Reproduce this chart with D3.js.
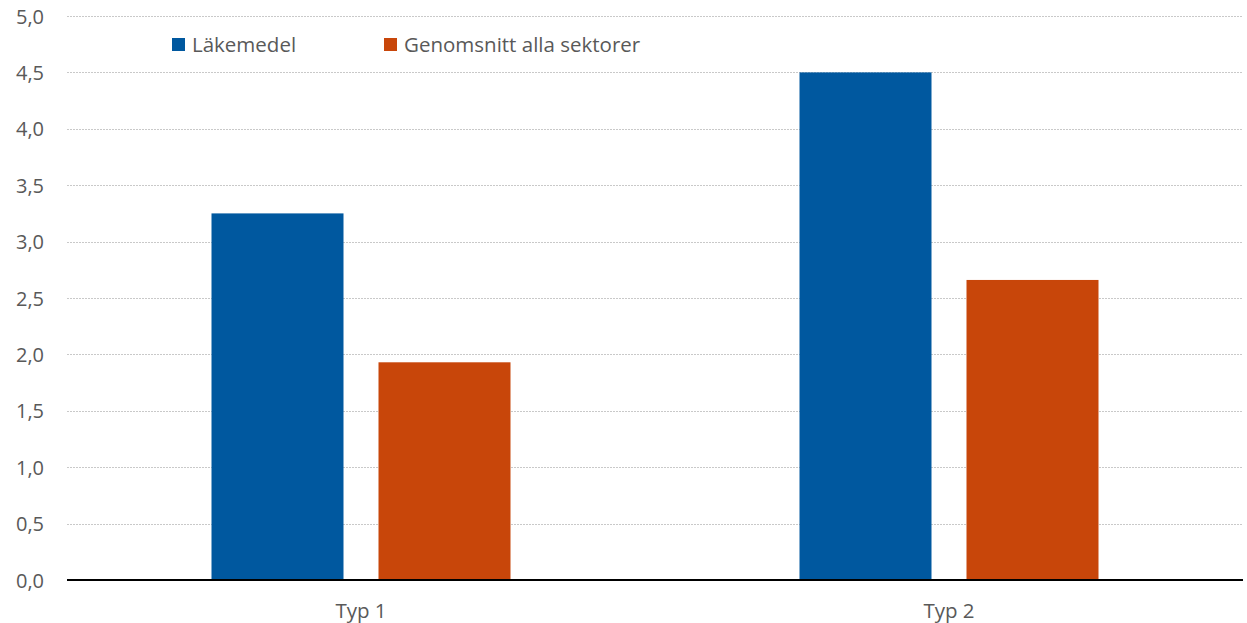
<!DOCTYPE html>
<html>
<head>
<meta charset="utf-8">
<script src="https://cdn.jsdelivr.net/npm/d3@7"></script>
<style>
  html, body { margin: 0; padding: 0; background: #fff; }
  svg { display: block; }
  text { font-family: "Open Sans", "Noto Sans", sans-serif; fill: #595959; }
</style>
</head>
<body>
<svg id="chart" width="1247" height="623"></svg>
<script>
// Categories, series and values
const categories = ["Typ 1", "Typ 2"];
const seriesNames = ["Läkemedel", "Genomsnitt alla sektorer"];
const lakemedel = [3.25, 4.5];
const genomsnitt = [1.93, 2.66];
const yTicks = [0, 0.5, 1, 1.5, 2, 2.5, 3, 3.5, 4, 4.5, 5];
const colors = ["#00589f", "#c8460a"];

const seriesValues = [lakemedel, genomsnitt];
const rows = categories.map((c, i) => ({
  category: c,
  values: seriesNames.map((s, j) => ({ series: s, value: seriesValues[j][i], color: colors[j] }))
}));

const W = 1247, H = 623;
const margin = { left: 67, right: 4, top: 16, bottom: 43 };
const svg = d3.select("#chart");

const x0 = d3.scaleBand()
  .domain(categories)
  .range([margin.left, W - margin.right])
  .paddingInner(0.4915)
  .paddingOuter(0.4915 / 2);

const x1 = d3.scaleBand()
  .domain(seriesNames)
  .range([0, x0.bandwidth()])
  .paddingInner(0.2096);

const y = d3.scaleLinear()
  .domain([0, 5])
  .range([H - margin.bottom, margin.top]);

const fmt = d => d.toFixed(1).replace(".", ",");

// Horizontal gridlines
svg.append("g")
  .selectAll("line")
  .data(yTicks.filter(t => t > 0))
  .join("line")
  .attr("x1", margin.left)
  .attr("x2", W - margin.right)
  .attr("y1", d => Math.round(y(d)) + 0.5)
  .attr("y2", d => Math.round(y(d)) + 0.5)
  .attr("stroke", "#c9c9c9")
  .attr("stroke-width", 1)
  .attr("stroke-dasharray", "2,1");

// Y axis labels
const yAxis = svg.append("g")
  .attr("transform", `translate(${margin.left - 23},0)`)
  .call(d3.axisLeft(y).tickValues(yTicks).tickFormat(fmt).tickSize(0).tickPadding(0));
yAxis.select(".domain").remove();
yAxis.selectAll("text")
  .style("font-size", "20px")
  .attr("fill", "#595959")
  .attr("dy", "0.35em");

// Bars
svg.append("g")
  .selectAll("g")
  .data(rows)
  .join("g")
  .attr("transform", d => `translate(${x0(d.category)},0)`)
  .selectAll("rect")
  .data(d => d.values)
  .join("rect")
  .attr("x", d => x1(d.series))
  .attr("width", x1.bandwidth())
  .attr("y", d => y(d.value))
  .attr("height", d => y(0) - y(d.value))
  .attr("fill", d => d.color);

// Baseline
svg.append("line")
  .attr("x1", margin.left)
  .attr("x2", W - margin.right)
  .attr("y1", y(0))
  .attr("y2", y(0))
  .attr("stroke", "#000")
  .attr("stroke-width", 2);

// X axis labels
const xAxis = svg.append("g")
  .attr("transform", `translate(0,${y(0)})`)
  .call(d3.axisBottom(x0).tickSize(0).tickPadding(23));
xAxis.select(".domain").remove();
xAxis.selectAll("text")
  .style("font-size", "20.5px")
  .attr("fill", "#595959");

// Legend
const legendX = [172, 384];
const legend = svg.append("g")
  .selectAll("g")
  .data(seriesNames)
  .join("g")
  .attr("transform", (d, i) => `translate(${legendX[i]},38)`);
legend.append("rect")
  .attr("width", 13)
  .attr("height", 13)
  .attr("fill", (d, i) => colors[i]);
legend.append("text")
  .attr("x", 20)
  .attr("y", 7)
  .attr("dy", "0.35em")
  .style("font-size", "20.5px")
  .text(d => d);
</script>
</body>
</html>
